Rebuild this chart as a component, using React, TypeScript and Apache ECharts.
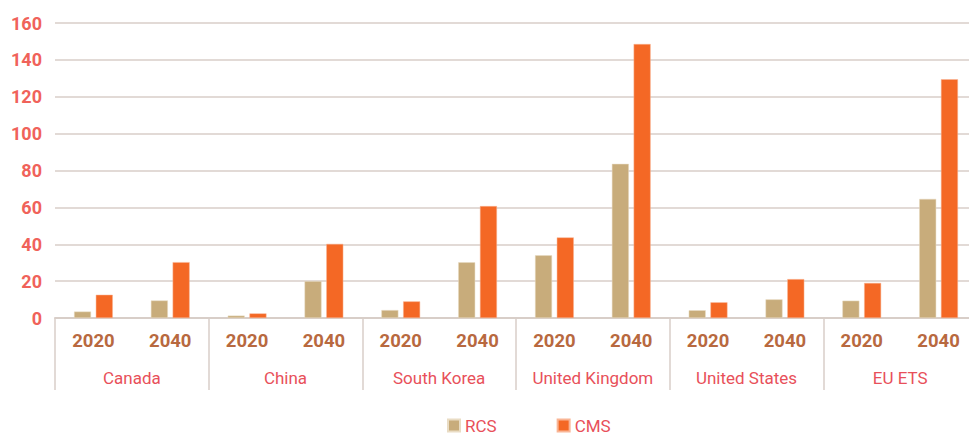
import React, { useEffect, useRef } from "react";
import * as echarts from "echarts";

const countries = ["Canada", "China", "South Korea", "United Kingdom", "United States", "EU ETS"];
const years = ["2020", "2040"];
const rcsValues = [3.5, 9.5, 1.3, 20, 4.3, 30.2, 34, 83.6, 4.2, 10.1, 9.4, 64.6];
const cmsValues = [12.6, 30.3, 2.5, 40.2, 9, 60.7, 43.7, 148.6, 8.5, 21.1, 19, 129.5];
const seriesNames = ["RCS", "CMS"];

const yearCategories = countries.flatMap(() => years);

export default function App() {
  const ref = useRef<HTMLDivElement>(null);
  useEffect(() => {
    document.body.style.margin = "0";
    const chart = echarts.init(ref.current!, null, { renderer: "svg" });
    const gridColor = "#d8cec8";
    chart.setOption({
      animation: false,
      backgroundColor: "#ffffff",
      grid: { left: 55, right: 0, top: 23, bottom: 117, containLabel: false },
      legend: {
        data: seriesNames,
        bottom: 1,
        left: 447,
        padding: 0,
        itemWidth: 12,
        itemHeight: 12,
        itemGap: 60,
        icon: "rect",
        textStyle: { color: "#e8505a", fontSize: 17, fontFamily: "Roboto, sans-serif" },
      },
      xAxis: [
        {
          type: "category",
          data: yearCategories,
          position: "bottom",
          axisLine: { show: true, lineStyle: { color: gridColor, width: 2 } },
          axisTick: { show: false },
          axisLabel: {
            interval: 0,
            color: "#b8693f",
            fontSize: 18.5,
            fontWeight: "bold",
            fontFamily: "Roboto, sans-serif",
            margin: 13,
          },
        },
        {
          type: "category",
          data: countries,
          position: "bottom",
          axisLine: { show: false },
          axisTick: { show: true, length: 72, interval: 0, lineStyle: { color: gridColor, width: 1.5 } },
          axisLabel: {
            interval: 0,
            color: "#e8505a",
            fontSize: 17,
            fontFamily: "Roboto, sans-serif",
            margin: 51,
          },
        },
      ],
      yAxis: {
        type: "value",
        min: 0,
        max: 160,
        interval: 20,
        axisLine: { show: false },
        axisTick: { show: false },
        splitLine: { lineStyle: { color: gridColor, width: 1.5 } },
        axisLabel: {
          color: "#f0625a",
          fontSize: 18,
          fontWeight: "bold",
          fontFamily: "Roboto, sans-serif",
          margin: 13,
        },
      },
      series: [
        {
          name: seriesNames[0],
          type: "bar",
          xAxisIndex: 0,
          data: rcsValues,
          barWidth: 17,
          barGap: "28%",
          itemStyle: { color: "#c8ac7b", borderColor: "#e9dcc4", borderWidth: 0.5 },
        },
        {
          name: seriesNames[1],
          type: "bar",
          xAxisIndex: 0,
          data: cmsValues,
          barWidth: 17,
          barGap: "28%",
          itemStyle: { color: "#f46825", borderColor: "#f9b595", borderWidth: 0.5 },
        },
      ],
    });
    return () => chart.dispose();
  }, []);
  return (
    <div style={{ position: "fixed", left: 0, top: 0, width: 969, height: 435, overflow: "hidden" }}>
      <div ref={ref} style={{ width: 977, height: 435 }} />
    </div>
  );
}
